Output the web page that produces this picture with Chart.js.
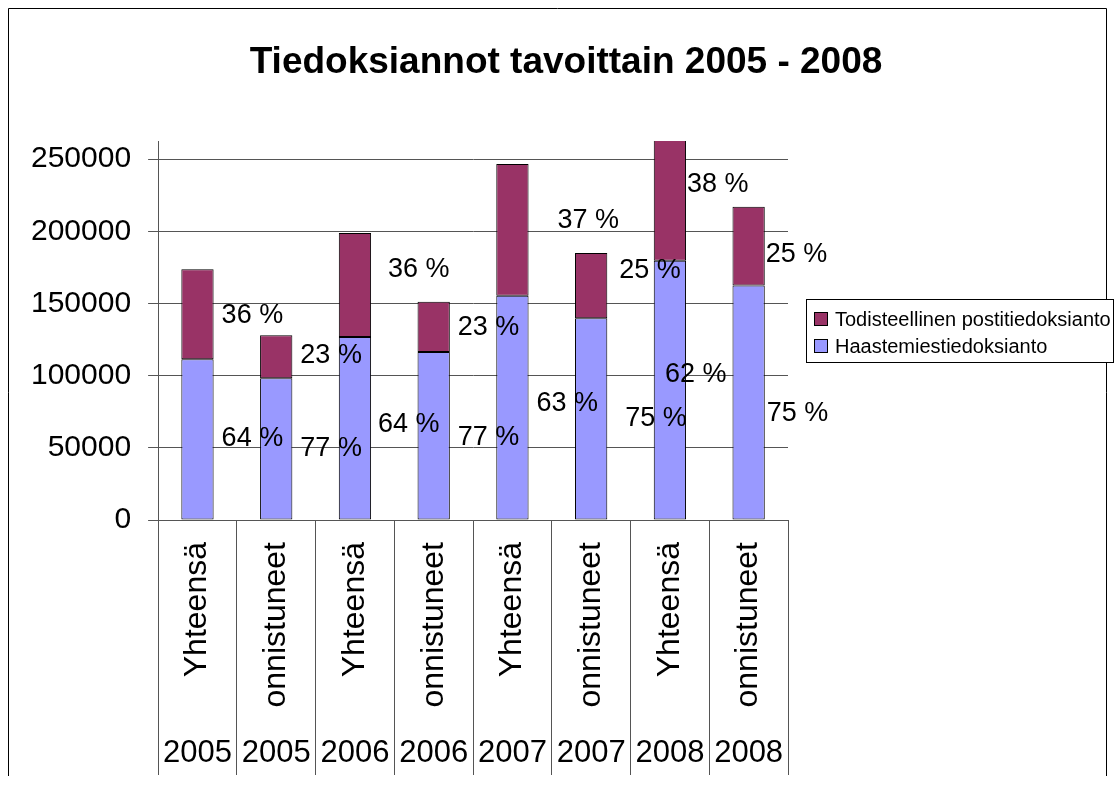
<!DOCTYPE html>
<html><head><meta charset="utf-8">
<script src="https://cdn.jsdelivr.net/npm/chart.js@4.4.0/dist/chart.umd.min.js"></script>
<style>html,body{margin:0;padding:0;background:#fff;}#wrap{width:1115px;height:785px;}</style>
</head><body><div id="wrap"><canvas id="c" width="1115" height="785"></canvas></div>
<script>
const titleText = 'Tiedoksiannot tavoittain 2005 - 2008';
const categories = ['Yhteensä','onnistuneet','Yhteensä','onnistuneet','Yhteensä','onnistuneet','Yhteensä','onnistuneet'];
const years = ['2005','2005','2006','2006','2007','2007','2008','2008'];
const seriesNames = ['Haastemiestiedoksianto','Todisteellinen postitiedoksianto'];
const haasteValues = [111300, 98100, 126700, 116300, 155300, 139700, 179600, 162500];
const postiValues = [62300, 29800, 72000, 34900, 91200, 45200, 110000, 54400];
const haastePct = ['64 %','77 %','64 %','77 %','63 %','75 %','62 %','75 %'];
const postiPct = ['36 %','23 %','36 %','23 %','37 %','25 %','38 %','25 %'];
const yTicks = [0, 50000, 100000, 150000, 200000, 250000];
const yMax = 262500;

const FONT = "'Liberation Sans', Arial, sans-serif";
const colors = ['#9999FF', '#993366'];
const pctLabels = [haastePct, postiPct];
// small manual nudges of the percentage labels (text placement style, in px)
const labelNudge = [
  [[0,-2],[0,-1],[-1,-5],[0,1],[0,-5],[10,-1],[-29,-17],[-6,10]],
  [[0,0],[0,-2],[9,-17],[0,0],[21,-10],[4,-16],[-7,2],[-7,7]]
];

const customPlugin = {
  id: 'custom',
  beforeDraw(chart) {
    const ctx = chart.ctx;
    ctx.save();
    ctx.fillStyle = '#fff';
    ctx.fillRect(0, 0, chart.width, chart.height);
    ctx.strokeStyle = '#000';
    ctx.lineWidth = 1;
    ctx.beginPath();
    ctx.moveTo(8.5, 776);
    ctx.lineTo(8.5, 8.5);
    ctx.lineTo(1106.5, 8.5);
    ctx.lineTo(1106.5, 776);
    ctx.stroke();
    ctx.fillStyle = '#000';
    ctx.font = 'bold 37px ' + FONT;
    ctx.textAlign = 'center';
    ctx.textBaseline = 'alphabetic';
    ctx.fillText(titleText, 566, 73);
    ctx.restore();
  },
  afterDatasetsDraw(chart) {
    const ctx = chart.ctx;
    ctx.save();
    ctx.fillStyle = '#000';
    ctx.font = '27px ' + FONT;
    ctx.textAlign = 'left';
    ctx.textBaseline = 'middle';
    chart.data.datasets.forEach((ds, d) => {
      const meta = chart.getDatasetMeta(d);
      meta.data.forEach((el, i) => {
        const p = el.getProps(['x', 'y', 'base', 'width'], true);
        const n = labelNudge[d][i];
        const x = p.x + p.width / 2 + 8 + n[0];
        const y = (p.y + p.base) / 2 + 1 + n[1];
        ctx.fillText(pctLabels[d][i], x, y);
      });
    });
    ctx.restore();
  },
  afterDraw(chart) {
    const ctx = chart.ctx;
    const xs = chart.scales.x;
    ctx.save();
    ctx.fillStyle = '#000';
    categories.forEach((c, i) => {
      const x = xs.getPixelForValue(i);
      ctx.save();
      ctx.translate(x, 542);
      ctx.rotate(-Math.PI / 2);
      ctx.font = '32px ' + FONT;
      ctx.textAlign = 'right';
      ctx.textBaseline = 'middle';
      ctx.fillText(c, 0, 0);
      ctx.restore();
      ctx.font = '31px ' + FONT;
      ctx.textAlign = 'center';
      ctx.textBaseline = 'alphabetic';
      ctx.fillText(years[i], x, 762);
    });
    const lx = 806.5, ly = 299.5, lw = 307, lh = 63;
    ctx.fillStyle = '#fff';
    ctx.fillRect(lx, ly, lw, lh);
    ctx.strokeStyle = '#000';
    ctx.lineWidth = 1;
    ctx.strokeRect(lx, ly, lw, lh);
    ctx.font = '20px ' + FONT;
    ctx.textAlign = 'left';
    ctx.textBaseline = 'middle';
    [1, 0].forEach((d, r) => {
      const cy = 319 + r * 27;
      ctx.fillStyle = chart.data.datasets[d].backgroundColor;
      ctx.fillRect(814.5, cy - 6.5, 13, 13);
      ctx.strokeStyle = '#000';
      ctx.strokeRect(814.5, cy - 6.5, 13, 13);
      ctx.fillStyle = '#000';
      ctx.fillText(chart.data.datasets[d].label, 835, cy + 1);
    });
    ctx.restore();
  }
};

new Chart(document.getElementById('c'), {
  type: 'bar',
  data: {
    labels: categories.map((c, i) => c + ' ' + years[i]),
    datasets: [
      { label: seriesNames[0], data: haasteValues, backgroundColor: colors[0], borderColor: '#000', borderWidth: 1, borderSkipped: false, clip: 0 },
      { label: seriesNames[1], data: postiValues, backgroundColor: colors[1], borderColor: '#000', borderWidth: 1, borderSkipped: false, clip: 0 }
    ]
  },
  options: {
    responsive: false,
    animation: false,
    devicePixelRatio: 1,
    layout: { padding: { left: 14, right: 327, top: 141, bottom: 10 } },
    datasets: { bar: { categoryPercentage: 1.0, barPercentage: 0.41 } },
    plugins: { legend: { display: false }, title: { display: false }, tooltip: { enabled: false } },
    scales: {
      x: {
        stacked: true,
        grid: { offset: true, drawOnChartArea: false, tickLength: 255, color: '#555', lineWidth: 1 },
        border: { display: true, color: '#555' },
        ticks: { display: false }
      },
      y: {
        stacked: true,
        min: 0,
        max: yMax,
        afterBuildTicks: (scale) => { scale.ticks = yTicks.map(v => ({ value: v })); },
        ticks: { color: '#000', padding: 17, font: { family: FONT, size: 30 }, callback: (v) => String(v) },
        grid: { color: '#555', tickLength: 10, lineWidth: 1 },
        border: { display: true, color: '#555' }
      }
    }
  },
  plugins: [customPlugin]
});
</script>
</body></html>
